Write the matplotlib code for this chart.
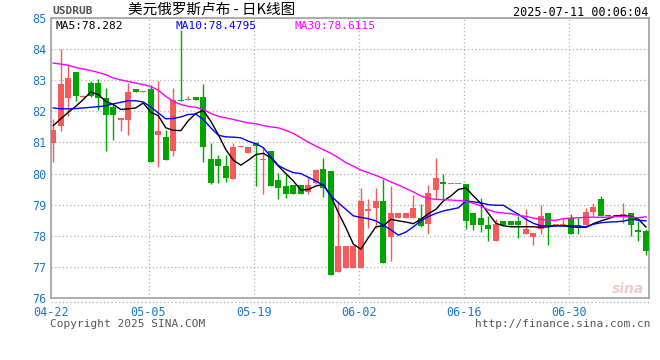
import matplotlib
matplotlib.use('Agg')
import matplotlib.pyplot as plt
from matplotlib.lines import Line2D
import numpy as np

# USDRUB daily candles, 04-22 .. 07-10 (one bar per calendar day)
tick_labels = ['04-22', '05-05', '05-19', '06-02', '06-16', '06-30']
tick_idx = [0, 13, 27, 41, 55, 69]

opens = [80.99, 81.54, 82.44, 83.25, 82.47, 82.92, 82.92, 82.44, 82.14, 81.71,
         81.71, 82.73, 82.63, 82.73, 81.25, 81.18, 80.71, 82.38, 82.35, 82.46,
         82.46, 80.47, 80.47, 80.23, 79.81, 80.85, 80.66, 80.97, 80.43, 80.74,
         79.79, 79.60, 79.62, 79.62, 79.41, 79.71, 80.16, 80.07, 76.84, 76.95,
         76.95, 76.95, 78.80, 78.88, 79.12, 77.97, 78.56, 78.56, 78.56, 78.58,
         78.39, 79.47, 79.74, 79.66, 79.66, 79.68, 78.72, 78.56, 78.34, 77.84,
         78.47, 78.47, 78.47, 78.05, 77.96, 78.21, 78.72, 78.34, 78.34, 78.56,
         78.36, 78.35, 78.76, 79.17, 78.66, 78.68, 78.64, 78.72, 78.17, 78.15]
closes = [81.41, 82.89, 83.08, 82.48, 82.50, 82.48, 82.42, 81.87, 81.87, 81.77,
          82.63, 82.61, 82.66, 80.37, 81.38, 80.45, 82.38, 82.33, 82.40, 82.37,
          80.85, 79.71, 80.24, 79.85, 80.86, 80.87, 80.86, 80.88, 80.47, 79.60,
          79.52, 79.33, 79.33, 79.33, 79.62, 80.13, 79.54, 76.74, 77.68, 77.68,
          77.68, 79.12, 78.85, 79.12, 77.11, 78.72, 78.72, 78.72, 78.88, 78.32,
          79.36, 79.87, 79.65, 79.68, 79.68, 78.48, 78.35, 78.35, 78.21, 78.37,
          78.35, 78.35, 78.35, 78.23, 78.10, 78.62, 78.35, 78.37, 78.37, 78.05,
          78.32, 78.78, 78.94, 78.62, 78.62, 78.62, 78.71, 78.35, 78.12, 77.51]
highs = [81.74, 84.00, 83.53, 83.25, 82.53, 82.96, 83.04, 82.76, 82.22, 81.77,
         82.91, 82.73, 82.66, 82.86, 82.99, 81.41, 82.75, 84.62, 82.48, 82.46,
         82.89, 80.97, 80.61, 80.61, 80.97, 80.87, 80.86, 81.01, 80.84, 80.74,
         80.03, 79.97, 79.62, 79.62, 79.89, 80.16, 80.49, 80.07, 79.12, 77.68,
         77.68, 79.54, 79.17, 79.54, 79.81, 79.60, 78.72, 78.72, 79.31, 79.01,
         79.62, 80.49, 80.00, 79.68, 79.68, 79.68, 78.72, 79.22, 78.62, 78.53,
         78.47, 78.47, 78.64, 78.85, 78.10, 78.98, 78.72, 78.37, 78.58, 78.69,
         78.56, 78.90, 79.04, 79.28, 78.66, 78.68, 79.04, 78.72, 78.48, 78.23]
lows = [80.37, 81.36, 81.86, 82.32, 82.46, 82.46, 82.03, 80.72, 81.07, 81.36,
        81.25, 82.61, 82.61, 80.37, 80.22, 80.45, 80.58, 82.33, 82.35, 82.37,
        80.37, 79.67, 79.71, 79.74, 79.81, 80.85, 80.66, 79.60, 79.34, 79.60,
        79.17, 79.20, 79.33, 79.33, 79.33, 79.67, 79.25, 76.74, 76.84, 76.95,
        76.95, 76.95, 78.26, 78.26, 77.11, 77.19, 78.56, 78.56, 78.56, 78.28,
        78.07, 79.17, 79.17, 79.66, 79.66, 78.23, 78.19, 78.12, 77.84, 77.84,
        78.35, 78.35, 77.92, 78.05, 77.71, 78.05, 77.71, 78.34, 78.34, 78.05,
        78.05, 78.35, 78.64, 78.62, 78.62, 78.62, 78.42, 77.99, 77.84, 77.39]

ma5 = [81.54, 81.76, 81.97, 82.16, 82.38, 82.62, 82.54, 82.32, 82.22, 82.06,
       82.08, 82.11, 82.27, 81.97, 81.86, 81.47, 81.39, 81.38, 81.70, 81.93,
       82.03, 81.68, 81.25, 80.77, 80.43, 80.27, 80.43, 80.61, 80.65, 80.51,
       80.24, 80.00, 79.76, 79.47, 79.49, 79.60, 79.65, 79.28, 78.74, 78.26,
       77.73, 77.57, 77.94, 78.29, 78.32, 78.53, 78.48, 78.44, 78.39, 78.53,
       78.71, 78.85, 79.12, 79.28, 79.49, 79.54, 79.28, 79.04, 78.72, 78.40,
       78.32, 78.29, 78.29, 78.29, 78.29, 78.27, 78.29, 78.32, 78.32, 78.29,
       78.27, 78.27, 78.39, 78.48, 78.55, 78.64, 78.65, 78.62, 78.53, 78.28]
ma10 = [82.11, 82.08, 82.08, 82.09, 82.11, 82.13, 82.15, 82.18, 82.24, 82.29,
        82.34, 82.34, 82.30, 82.14, 81.95, 81.76, 81.77, 81.82, 81.90, 81.91,
        81.74, 81.47, 81.23, 81.18, 81.17, 81.15, 81.04, 80.96, 80.83, 80.54,
        80.26, 80.13, 80.03, 80.00, 79.88, 79.76, 79.62, 79.28, 79.06, 78.85,
        78.64, 78.59, 78.55, 78.48, 78.34, 78.19, 78.02, 78.12, 78.29, 78.48,
        78.62, 78.72, 78.80, 78.85, 78.90, 79.12, 79.09, 79.06, 79.00, 78.98,
        78.98, 78.83, 78.69, 78.53, 78.40, 78.32, 78.32, 78.32, 78.32, 78.32,
        78.31, 78.29, 78.37, 78.42, 78.44, 78.45, 78.47, 78.53, 78.50, 78.48]
ma30 = [83.55, 83.52, 83.48, 83.41, 83.36, 83.31, 83.25, 83.18, 83.07, 83.01,
        82.96, 82.91, 82.86, 82.80, 82.68, 82.48, 82.32, 82.22, 82.16, 82.13,
        82.06, 81.93, 81.84, 81.79, 81.74, 81.68, 81.63, 81.60, 81.54, 81.50,
        81.47, 81.39, 81.29, 81.15, 81.01, 80.88, 80.77, 80.65, 80.51, 80.35,
        80.24, 80.11, 80.03, 79.94, 79.84, 79.73, 79.63, 79.52, 79.41, 79.28,
        79.20, 79.17, 79.16, 79.15, 79.13, 79.11, 79.04, 78.96, 78.83, 78.76,
        78.73, 78.71, 78.66, 78.62, 78.57, 78.53, 78.49, 78.50, 78.55, 78.57,
        78.58, 78.59, 78.60, 78.59, 78.60, 78.62, 78.62, 78.60, 78.58, 78.61]

ma_last = ['78.282', '78.4795', '78.6115']

UP = '#f75a5a'
DOWN = '#00a600'
TICK = '#1c78cc'
FRAME = '#a0a0a0'

W, H = 660, 360
fig = plt.figure(figsize=(W / 100, H / 100), dpi=100)
# plot box in pixels: x 51..649, y 18..298
ax = fig.add_axes([51 / W, 1 - 298 / H, 598 / W, 280 / H])

x = np.arange(len(opens))
o = np.array(opens)
c = np.array(closes)
up = c >= o
colors = np.where(up, UP, DOWN)

ax.vlines(x, lows, highs, colors=colors, linewidth=1.0, zorder=2)
body_lo = np.minimum(o, c)
body_h = np.maximum(np.abs(c - o), 0.035)
ax.bar(x, body_h, bottom=body_lo, width=0.8, color=colors, linewidth=0, zorder=3)

ax.plot(x, ma5, color='black', lw=1.0, zorder=4)
ax.plot(x, ma10, color='#0000ff', lw=1.0, zorder=4)
ax.plot(x, ma30, color='#ff00ff', lw=1.0, zorder=4)

ax.set_xlim(-0.3, len(x) - 1 + 0.4)
ax.set_ylim(76, 85)
ax.set_yticks(range(76, 86))
ax.set_xticks([i - 0.3 for i in tick_idx])
ax.set_xticklabels(tick_labels)
ax.tick_params(length=0, colors=TICK, labelsize=8.5)
ax.tick_params(axis='x', pad=6)
ax.tick_params(axis='y', pad=3)
for lab in ax.get_xticklabels() + ax.get_yticklabels():
    lab.set_family('DejaVu Sans Mono')
ax.grid(True, color='#b0b0b0', linestyle=(0, (1, 2)), linewidth=0.9)
ax.set_axisbelow(True)
for s in ax.spines.values():
    s.set_color(FRAME)
    s.set_linewidth(1.2)

# dotted strip under the x axis
fig.add_artist(Line2D([51 / W, 649 / W], [1 - 302 / H, 1 - 302 / H],
                      color='#b0b0b0', linestyle=(0, (1, 2)), linewidth=0.9))

mono = 'DejaVu Sans Mono'
ax.text(0.008, 0.99, 'MA5:' + ma_last[0], transform=ax.transAxes, va='top',
        ha='left', color='black', fontsize=8, family=mono)
ax.text(0.208, 0.99, 'MA10:' + ma_last[1], transform=ax.transAxes, va='top',
        ha='left', color='#0000ff', fontsize=8, family=mono)
ax.text(0.408, 0.99, 'MA30:' + ma_last[2], transform=ax.transAxes, va='top',
        ha='left', color='#ff00ff', fontsize=8, family=mono)

fig.text(52 / W, 1 - 11 / H, 'USDRUB', color='#555555', fontsize=8,
         family=mono, fontweight='bold', va='center', ha='left')
fig.text(212 / W, 1 - 10 / H, '美元俄罗斯卢布 - 日K线图', color='black',
         fontsize=10.5, family=['Noto Sans CJK SC', 'DejaVu Sans'],
         va='center', ha='center')
fig.text(648 / W, 1 - 12 / H, '2025-07-11 00:06:04', color='black',
         fontsize=8.5, family=mono, va='center', ha='right')
fig.text(50 / W, 1 - 324 / H, 'Copyright 2025 SINA.COM', color='#555555',
         fontsize=8, family=mono, va='center', ha='left')
fig.text(650 / W, 1 - 324 / H, 'http://finance.sina.com.cn', color='#555555',
         fontsize=8, family=mono, va='center', ha='right')
fig.text(628 / W, 1 - 289 / H, 'sina', color='#e8c0c0', fontsize=10,
         fontstyle='italic', fontweight='bold', va='center', ha='center',
         alpha=0.8)

fig.savefig('out.png', dpi=100)
